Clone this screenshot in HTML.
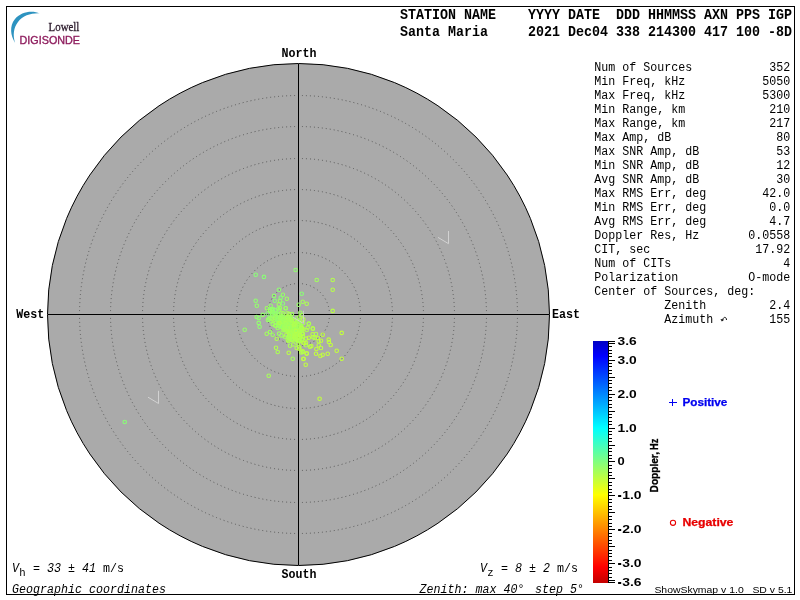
<!DOCTYPE html>
<html><head><meta charset="utf-8"><title>Skymap</title>
<style>
html,body{margin:0;padding:0;background:#fff;overflow:hidden}
svg{display:block;will-change:transform}
text{font-family:"Liberation Mono",monospace;white-space:pre;fill:#000}
.m{font-size:12px}
.mb{font-size:13.6px;font-weight:bold}
.mi{font-size:12px;font-style:italic}
.h{font-size:13.8px;font-weight:bold}
.sb{font-family:"Liberation Sans",sans-serif;font-weight:bold;font-size:10.5px}
.s{font-family:"Liberation Sans",sans-serif;font-size:9.3px}
</style></head><body>
<svg width="800" height="600" viewBox="0 0 800 600">
<rect x="0" y="0" width="800" height="600" fill="#fff"/>
<g id="logo">
<path d="M39.8,13.4 C32,10.3 21,11.6 14.6,19.5 C9.6,26 10.2,35.5 15.2,43 C12.6,35.5 13.6,27.5 18,22 C23,15.6 31,13 39.8,13.4 Z" fill="#2d93c0"/>
<text x="48.6" y="30.8" textLength="30.8" lengthAdjust="spacingAndGlyphs" style="font-family:'Liberation Serif',serif;font-size:12.2px;fill:#2b1a2b;stroke:#2b1a2b;stroke-width:0.3">Lowell</text>
<text x="19.6" y="43.5" textLength="60.4" lengthAdjust="spacingAndGlyphs" style="font-family:'Liberation Sans',sans-serif;font-size:10.9px;fill:#8e1d5e;stroke:#8e1d5e;stroke-width:0.35">DIGISONDE</text>
</g>
<text class="h" x="400" y="19" textLength="392" lengthAdjust="spacingAndGlyphs">STATION NAME    YYYY DATE  DDD HHMMSS AXN PPS IGP</text>
<text class="h" x="400" y="36" textLength="392" lengthAdjust="spacingAndGlyphs">Santa Maria     2021 Dec04 338 214300 417 100 -8D</text>
<circle cx="298.5" cy="314.5" r="251" fill="#aaaaaa" stroke="#000" stroke-width="1"/>
<circle cx="298.5" cy="314.5" r="31" pathLength="192" fill="none" stroke="#585858" stroke-width="1" stroke-dasharray="1 3" stroke-dashoffset="0.5"/>
<circle cx="298.5" cy="314.5" r="62" pathLength="384" fill="none" stroke="#585858" stroke-width="1" stroke-dasharray="1 3" stroke-dashoffset="0.5"/>
<circle cx="298.5" cy="314.5" r="94" pathLength="592" fill="none" stroke="#585858" stroke-width="1" stroke-dasharray="1 3" stroke-dashoffset="0.5"/>
<circle cx="298.5" cy="314.5" r="125" pathLength="784" fill="none" stroke="#585858" stroke-width="1" stroke-dasharray="1 3" stroke-dashoffset="0.5"/>
<circle cx="298.5" cy="314.5" r="156" pathLength="976" fill="none" stroke="#585858" stroke-width="1" stroke-dasharray="1 3" stroke-dashoffset="0.5"/>
<circle cx="298.5" cy="314.5" r="188" pathLength="1184" fill="none" stroke="#585858" stroke-width="1" stroke-dasharray="1 3" stroke-dashoffset="0.5"/>
<circle cx="298.5" cy="314.5" r="219" pathLength="1376" fill="none" stroke="#585858" stroke-width="1" stroke-dasharray="1 3" stroke-dashoffset="0.5"/>
<g shape-rendering="crispEdges" stroke="#000" stroke-width="1">
<line x1="298.5" y1="64" x2="298.5" y2="565"/>
<line x1="48" y1="314.5" x2="549" y2="314.5"/>
</g>
<path d="M438,237.4 L448.5,243.7 L448.5,231" fill="none" stroke="#d2d2d2" stroke-width="1"/>
<path d="M148,397.2 L158.5,403.5 L158.5,390.8" fill="none" stroke="#d2d2d2" stroke-width="1"/>
<text class="mb" x="281.5" y="56.5" textLength="35" lengthAdjust="spacingAndGlyphs">North</text>
<text class="mb" x="281.5" y="577.5" textLength="35" lengthAdjust="spacingAndGlyphs">South</text>
<text class="mb" x="16.2" y="317.5" textLength="28" lengthAdjust="spacingAndGlyphs">West</text>
<text class="mb" x="552" y="317.5" textLength="28" lengthAdjust="spacingAndGlyphs">East</text>
<g fill="none" stroke-width="1.1">
<circle cx="278.0" cy="314.5" r="1.75" stroke="#95ff6b"/>
<circle cx="291.0" cy="327.8" r="1.75" stroke="#abff54"/>
<circle cx="285.5" cy="329.7" r="1.75" stroke="#a7ff58"/>
<circle cx="293.7" cy="328.7" r="1.75" stroke="#b5ff4b"/>
<circle cx="282.1" cy="322.3" r="1.75" stroke="#9aff66"/>
<circle cx="292.1" cy="328.7" r="1.75" stroke="#bbff45"/>
<circle cx="298.7" cy="304.7" r="1.75" stroke="#97ff69"/>
<circle cx="293.8" cy="331.6" r="1.75" stroke="#a6ff5a"/>
<circle cx="282.8" cy="326.0" r="1.75" stroke="#99ff67"/>
<circle cx="296.7" cy="328.8" r="1.75" stroke="#a5ff5b"/>
<circle cx="266.8" cy="308.3" r="1.75" stroke="#9eff62"/>
<circle cx="278.8" cy="324.7" r="1.75" stroke="#9cff63"/>
<circle cx="312.7" cy="328.4" r="1.75" stroke="#b2ff4d"/>
<circle cx="290.3" cy="329.2" r="1.75" stroke="#b9ff47"/>
<circle cx="281.1" cy="317.3" r="1.75" stroke="#9cff64"/>
<circle cx="293.6" cy="322.9" r="1.75" stroke="#acff54"/>
<circle cx="284.1" cy="325.2" r="1.75" stroke="#a4ff5c"/>
<circle cx="285.2" cy="327.8" r="1.75" stroke="#a5ff5b"/>
<circle cx="288.0" cy="317.0" r="1.75" stroke="#9cff64"/>
<circle cx="284.3" cy="328.4" r="1.75" stroke="#a7ff59"/>
<circle cx="287.7" cy="339.7" r="1.75" stroke="#adff53"/>
<circle cx="306.1" cy="338.6" r="1.75" stroke="#bbff45"/>
<circle cx="284.4" cy="318.3" r="1.75" stroke="#9fff61"/>
<circle cx="292.7" cy="358.7" r="1.75" stroke="#a7ff59"/>
<circle cx="278.8" cy="304.4" r="1.75" stroke="#a4ff5c"/>
<circle cx="316.7" cy="280.0" r="1.75" stroke="#a2ff5e"/>
<circle cx="291.8" cy="331.6" r="1.75" stroke="#b2ff4e"/>
<circle cx="298.6" cy="325.5" r="1.75" stroke="#b1ff4e"/>
<circle cx="298.0" cy="330.1" r="1.75" stroke="#b1ff4e"/>
<circle cx="332.7" cy="310.9" r="1.75" stroke="#b9ff46"/>
<circle cx="255.7" cy="300.8" r="1.75" stroke="#90ff70"/>
<circle cx="290.8" cy="316.2" r="1.75" stroke="#9dff62"/>
<circle cx="289.7" cy="331.1" r="1.75" stroke="#b2ff4d"/>
<circle cx="285.6" cy="326.3" r="1.75" stroke="#a3ff5d"/>
<circle cx="341.7" cy="358.8" r="1.75" stroke="#c2ff3d"/>
<circle cx="294.6" cy="337.9" r="1.75" stroke="#a8ff58"/>
<circle cx="292.0" cy="314.0" r="1.75" stroke="#a1ff5f"/>
<circle cx="290.2" cy="327.3" r="1.75" stroke="#a6ff5a"/>
<circle cx="306.7" cy="353.3" r="1.75" stroke="#c1ff3f"/>
<circle cx="293.0" cy="331.1" r="1.75" stroke="#afff51"/>
<circle cx="286.3" cy="321.1" r="1.75" stroke="#b7ff49"/>
<circle cx="297.6" cy="334.4" r="1.75" stroke="#a4ff5b"/>
<circle cx="271.5" cy="321.5" r="1.75" stroke="#95ff6b"/>
<circle cx="288.3" cy="321.6" r="1.75" stroke="#a5ff5b"/>
<circle cx="294.4" cy="329.6" r="1.75" stroke="#a6ff5a"/>
<circle cx="321.0" cy="348.0" r="1.75" stroke="#beff42"/>
<circle cx="281.4" cy="335.4" r="1.75" stroke="#a1ff5f"/>
<circle cx="262.7" cy="314.9" r="1.75" stroke="#94ff6b"/>
<circle cx="295.7" cy="336.3" r="1.75" stroke="#bcff44"/>
<circle cx="270.7" cy="305.7" r="1.75" stroke="#95ff6a"/>
<circle cx="282.8" cy="330.2" r="1.75" stroke="#a3ff5c"/>
<circle cx="291.1" cy="323.9" r="1.75" stroke="#b4ff4c"/>
<circle cx="316.4" cy="349.0" r="1.75" stroke="#c2ff3d"/>
<circle cx="313.3" cy="337.3" r="1.75" stroke="#b5ff4b"/>
<circle cx="292.0" cy="334.1" r="1.75" stroke="#acff53"/>
<circle cx="302.1" cy="339.4" r="1.75" stroke="#aeff51"/>
<circle cx="290.2" cy="328.4" r="1.75" stroke="#a9ff57"/>
<circle cx="298.7" cy="325.1" r="1.75" stroke="#a4ff5c"/>
<circle cx="282.5" cy="321.2" r="1.75" stroke="#9eff62"/>
<circle cx="290.6" cy="339.1" r="1.75" stroke="#a8ff58"/>
<circle cx="287.2" cy="327.6" r="1.75" stroke="#a9ff57"/>
<circle cx="285.7" cy="308.3" r="1.75" stroke="#8dff73"/>
<circle cx="291.3" cy="332.3" r="1.75" stroke="#a9ff56"/>
<circle cx="277.7" cy="328.0" r="1.75" stroke="#9dff62"/>
<circle cx="318.7" cy="345.3" r="1.75" stroke="#c1ff3e"/>
<circle cx="295.7" cy="334.1" r="1.75" stroke="#a8ff57"/>
<circle cx="276.0" cy="347.7" r="1.75" stroke="#b2ff4e"/>
<circle cx="293.5" cy="329.2" r="1.75" stroke="#acff53"/>
<circle cx="283.1" cy="325.2" r="1.75" stroke="#9bff64"/>
<circle cx="291.5" cy="326.0" r="1.75" stroke="#a3ff5d"/>
<circle cx="272.7" cy="334.7" r="1.75" stroke="#9fff61"/>
<circle cx="275.8" cy="313.5" r="1.75" stroke="#99ff67"/>
<circle cx="279.1" cy="333.6" r="1.75" stroke="#9fff61"/>
<circle cx="280.6" cy="318.8" r="1.75" stroke="#a2ff5e"/>
<circle cx="293.5" cy="333.0" r="1.75" stroke="#b3ff4d"/>
<circle cx="307.7" cy="327.6" r="1.75" stroke="#b1ff4f"/>
<circle cx="279.1" cy="310.4" r="1.75" stroke="#96ff6a"/>
<circle cx="303.3" cy="329.3" r="1.75" stroke="#b5ff4b"/>
<circle cx="306.0" cy="345.3" r="1.75" stroke="#afff50"/>
<circle cx="278.9" cy="289.7" r="1.75" stroke="#8eff72"/>
<circle cx="285.8" cy="324.5" r="1.75" stroke="#a1ff5e"/>
<circle cx="272.4" cy="314.4" r="1.75" stroke="#9bff65"/>
<circle cx="291.7" cy="326.8" r="1.75" stroke="#a0ff60"/>
<circle cx="285.0" cy="328.2" r="1.75" stroke="#a0ff5f"/>
<circle cx="285.0" cy="320.8" r="1.75" stroke="#9dff63"/>
<circle cx="301.8" cy="334.0" r="1.75" stroke="#a9ff57"/>
<circle cx="275.9" cy="322.6" r="1.75" stroke="#9bff65"/>
<circle cx="298.2" cy="333.5" r="1.75" stroke="#baff45"/>
<circle cx="278.2" cy="322.4" r="1.75" stroke="#93ff6d"/>
<circle cx="282.3" cy="327.3" r="1.75" stroke="#a2ff5e"/>
<circle cx="296.5" cy="334.1" r="1.75" stroke="#b0ff4f"/>
<circle cx="297.6" cy="335.1" r="1.75" stroke="#b6ff49"/>
<circle cx="280.0" cy="322.6" r="1.75" stroke="#98ff67"/>
<circle cx="292.2" cy="327.2" r="1.75" stroke="#a7ff58"/>
<circle cx="301.7" cy="293.7" r="1.75" stroke="#8aff76"/>
<circle cx="282.8" cy="316.7" r="1.75" stroke="#96ff6a"/>
<circle cx="300.9" cy="336.1" r="1.75" stroke="#a6ff5a"/>
<circle cx="309.0" cy="323.8" r="1.75" stroke="#afff50"/>
<circle cx="298.9" cy="337.5" r="1.75" stroke="#a5ff5a"/>
<circle cx="272.1" cy="310.2" r="1.75" stroke="#9cff64"/>
<circle cx="289.0" cy="325.8" r="1.75" stroke="#a3ff5d"/>
<circle cx="285.8" cy="326.8" r="1.75" stroke="#acff54"/>
<circle cx="299.4" cy="317.4" r="1.75" stroke="#b1ff4f"/>
<circle cx="293.4" cy="338.7" r="1.75" stroke="#a7ff59"/>
<circle cx="296.2" cy="339.9" r="1.75" stroke="#afff51"/>
<circle cx="280.5" cy="323.2" r="1.75" stroke="#9fff61"/>
<circle cx="289.6" cy="328.2" r="1.75" stroke="#b0ff4f"/>
<circle cx="282.3" cy="324.9" r="1.75" stroke="#a1ff5e"/>
<circle cx="291.3" cy="334.5" r="1.75" stroke="#b7ff49"/>
<circle cx="268.7" cy="375.7" r="1.75" stroke="#a7ff59"/>
<circle cx="292.5" cy="333.9" r="1.75" stroke="#aeff51"/>
<circle cx="279.8" cy="321.0" r="1.75" stroke="#a2ff5e"/>
<circle cx="283.8" cy="324.3" r="1.75" stroke="#adff53"/>
<circle cx="288.3" cy="341.0" r="1.75" stroke="#aeff51"/>
<circle cx="303.0" cy="333.9" r="1.75" stroke="#b7ff48"/>
<circle cx="303.7" cy="358.7" r="1.75" stroke="#baff46"/>
<circle cx="276.6" cy="313.8" r="1.75" stroke="#8eff72"/>
<circle cx="295.3" cy="332.0" r="1.75" stroke="#aeff52"/>
<circle cx="277.7" cy="352.0" r="1.75" stroke="#acff54"/>
<circle cx="286.5" cy="322.0" r="1.75" stroke="#a2ff5e"/>
<circle cx="274.0" cy="295.9" r="1.75" stroke="#91ff6f"/>
<circle cx="288.4" cy="328.8" r="1.75" stroke="#b7ff49"/>
<circle cx="301.6" cy="315.0" r="1.75" stroke="#abff55"/>
<circle cx="305.7" cy="364.7" r="1.75" stroke="#c0ff3f"/>
<circle cx="300.0" cy="340.1" r="1.75" stroke="#b2ff4e"/>
<circle cx="299.3" cy="348.7" r="1.75" stroke="#c2ff3d"/>
<circle cx="291.2" cy="329.7" r="1.75" stroke="#aeff52"/>
<circle cx="328.7" cy="339.6" r="1.75" stroke="#c2ff3d"/>
<circle cx="289.7" cy="318.7" r="1.75" stroke="#b3ff4d"/>
<circle cx="270.0" cy="310.0" r="1.75" stroke="#8aff76"/>
<circle cx="280.1" cy="326.7" r="1.75" stroke="#a5ff5b"/>
<circle cx="289.2" cy="318.4" r="1.75" stroke="#a1ff5e"/>
<circle cx="292.1" cy="327.5" r="1.75" stroke="#a6ff59"/>
<circle cx="292.8" cy="336.4" r="1.75" stroke="#abff55"/>
<circle cx="298.3" cy="337.1" r="1.75" stroke="#b7ff48"/>
<circle cx="311.3" cy="346.0" r="1.75" stroke="#c0ff3f"/>
<circle cx="291.0" cy="324.2" r="1.75" stroke="#a6ff59"/>
<circle cx="286.8" cy="298.8" r="1.75" stroke="#9eff62"/>
<circle cx="291.4" cy="318.6" r="1.75" stroke="#a1ff5f"/>
<circle cx="330.7" cy="345.0" r="1.75" stroke="#c2ff3d"/>
<circle cx="302.8" cy="336.3" r="1.75" stroke="#b1ff4f"/>
<circle cx="295.9" cy="329.0" r="1.75" stroke="#b3ff4c"/>
<circle cx="287.7" cy="329.4" r="1.75" stroke="#b7ff49"/>
<circle cx="302.7" cy="351.3" r="1.75" stroke="#c1ff3e"/>
<circle cx="289.2" cy="331.3" r="1.75" stroke="#a9ff57"/>
<circle cx="294.9" cy="337.9" r="1.75" stroke="#b4ff4c"/>
<circle cx="299.5" cy="341.5" r="1.75" stroke="#b6ff4a"/>
<circle cx="292.3" cy="326.8" r="1.75" stroke="#a5ff5b"/>
<circle cx="295.6" cy="270.0" r="1.75" stroke="#92ff6e"/>
<circle cx="274.7" cy="314.2" r="1.75" stroke="#96ff6a"/>
<circle cx="295.6" cy="328.2" r="1.75" stroke="#b5ff4b"/>
<circle cx="296.6" cy="318.5" r="1.75" stroke="#a0ff60"/>
<circle cx="293.4" cy="324.6" r="1.75" stroke="#a5ff5b"/>
<circle cx="300.0" cy="337.3" r="1.75" stroke="#bfff40"/>
<circle cx="294.3" cy="333.9" r="1.75" stroke="#b2ff4e"/>
<circle cx="296.4" cy="327.0" r="1.75" stroke="#9eff62"/>
<circle cx="295.4" cy="329.7" r="1.75" stroke="#9cff64"/>
<circle cx="301.8" cy="328.4" r="1.75" stroke="#abff55"/>
<circle cx="288.1" cy="330.9" r="1.75" stroke="#acff54"/>
<circle cx="300.3" cy="312.7" r="1.75" stroke="#9eff61"/>
<circle cx="272.1" cy="312.7" r="1.75" stroke="#98ff68"/>
<circle cx="283.1" cy="313.2" r="1.75" stroke="#a0ff60"/>
<circle cx="316.0" cy="353.7" r="1.75" stroke="#c2ff3d"/>
<circle cx="277.8" cy="319.6" r="1.75" stroke="#a8ff58"/>
<circle cx="290.5" cy="335.0" r="1.75" stroke="#a3ff5d"/>
<circle cx="303.3" cy="359.0" r="1.75" stroke="#c2ff3d"/>
<circle cx="289.2" cy="338.9" r="1.75" stroke="#a5ff5b"/>
<circle cx="280.0" cy="300.8" r="1.75" stroke="#9eff61"/>
<circle cx="292.0" cy="329.3" r="1.75" stroke="#adff52"/>
<circle cx="328.9" cy="342.0" r="1.75" stroke="#c2ff3d"/>
<circle cx="302.2" cy="328.2" r="1.75" stroke="#b9ff46"/>
<circle cx="282.3" cy="316.7" r="1.75" stroke="#9cff63"/>
<circle cx="282.9" cy="303.5" r="1.75" stroke="#8aff76"/>
<circle cx="295.8" cy="330.1" r="1.75" stroke="#a8ff58"/>
<circle cx="273.3" cy="309.3" r="1.75" stroke="#91ff6f"/>
<circle cx="291.9" cy="319.9" r="1.75" stroke="#a0ff60"/>
<circle cx="295.3" cy="338.8" r="1.75" stroke="#a4ff5c"/>
<circle cx="286.7" cy="328.0" r="1.75" stroke="#95ff6a"/>
<circle cx="300.0" cy="324.4" r="1.75" stroke="#abff55"/>
<circle cx="282.0" cy="320.2" r="1.75" stroke="#a4ff5c"/>
<circle cx="293.3" cy="339.4" r="1.75" stroke="#a4ff5c"/>
<circle cx="308.8" cy="337.8" r="1.75" stroke="#c2ff3e"/>
<circle cx="293.9" cy="336.3" r="1.75" stroke="#b3ff4d"/>
<circle cx="244.7" cy="329.8" r="1.75" stroke="#96ff6a"/>
<circle cx="291.7" cy="323.7" r="1.75" stroke="#aaff55"/>
<circle cx="298.6" cy="337.4" r="1.75" stroke="#aaff55"/>
<circle cx="287.2" cy="317.0" r="1.75" stroke="#b0ff50"/>
<circle cx="275.2" cy="310.3" r="1.75" stroke="#93ff6d"/>
<circle cx="297.2" cy="320.7" r="1.75" stroke="#a7ff58"/>
<circle cx="280.0" cy="308.0" r="1.75" stroke="#a4ff5c"/>
<circle cx="304.3" cy="343.2" r="1.75" stroke="#b9ff46"/>
<circle cx="292.3" cy="323.4" r="1.75" stroke="#a2ff5e"/>
<circle cx="289.9" cy="326.9" r="1.75" stroke="#adff53"/>
<circle cx="303.2" cy="323.1" r="1.75" stroke="#a9ff56"/>
<circle cx="312.6" cy="334.2" r="1.75" stroke="#beff42"/>
<circle cx="280.4" cy="321.3" r="1.75" stroke="#9fff61"/>
<circle cx="274.8" cy="300.8" r="1.75" stroke="#8aff76"/>
<circle cx="286.0" cy="323.4" r="1.75" stroke="#a3ff5d"/>
<circle cx="292.0" cy="323.4" r="1.75" stroke="#afff50"/>
<circle cx="310.0" cy="346.7" r="1.75" stroke="#bbff45"/>
<circle cx="284.5" cy="330.0" r="1.75" stroke="#afff50"/>
<circle cx="273.5" cy="320.2" r="1.75" stroke="#a4ff5c"/>
<circle cx="283.3" cy="321.2" r="1.75" stroke="#99ff66"/>
<circle cx="288.9" cy="332.2" r="1.75" stroke="#b5ff4b"/>
<circle cx="277.1" cy="319.8" r="1.75" stroke="#9eff61"/>
<circle cx="320.4" cy="356.0" r="1.75" stroke="#c2ff3d"/>
<circle cx="278.1" cy="322.6" r="1.75" stroke="#a3ff5d"/>
<circle cx="286.2" cy="324.6" r="1.75" stroke="#9eff61"/>
<circle cx="341.7" cy="332.9" r="1.75" stroke="#c2ff3d"/>
<circle cx="299.7" cy="330.9" r="1.75" stroke="#b8ff48"/>
<circle cx="289.9" cy="331.3" r="1.75" stroke="#aaff55"/>
<circle cx="283.4" cy="327.6" r="1.75" stroke="#a5ff5a"/>
<circle cx="288.3" cy="327.5" r="1.75" stroke="#9bff65"/>
<circle cx="290.1" cy="321.4" r="1.75" stroke="#99ff67"/>
<circle cx="332.7" cy="280.0" r="1.75" stroke="#b4ff4c"/>
<circle cx="295.2" cy="330.9" r="1.75" stroke="#a1ff5f"/>
<circle cx="301.0" cy="326.0" r="1.75" stroke="#a3ff5d"/>
<circle cx="318.7" cy="341.3" r="1.75" stroke="#baff46"/>
<circle cx="282.5" cy="326.2" r="1.75" stroke="#99ff66"/>
<circle cx="306.7" cy="303.7" r="1.75" stroke="#afff50"/>
<circle cx="298.7" cy="333.3" r="1.75" stroke="#afff50"/>
<circle cx="124.7" cy="422.0" r="1.75" stroke="#8aff76"/>
<circle cx="314.7" cy="338.0" r="1.75" stroke="#b2ff4e"/>
<circle cx="278.4" cy="308.6" r="1.75" stroke="#94ff6c"/>
<circle cx="296.7" cy="348.0" r="1.75" stroke="#b6ff4a"/>
<circle cx="291.9" cy="339.9" r="1.75" stroke="#b1ff4e"/>
<circle cx="298.6" cy="326.7" r="1.75" stroke="#a2ff5e"/>
<circle cx="267.6" cy="313.5" r="1.75" stroke="#8aff76"/>
<circle cx="290.1" cy="325.9" r="1.75" stroke="#aaff55"/>
<circle cx="291.9" cy="328.8" r="1.75" stroke="#9cff64"/>
<circle cx="285.5" cy="327.8" r="1.75" stroke="#a2ff5e"/>
<circle cx="284.4" cy="326.7" r="1.75" stroke="#afff51"/>
<circle cx="282.9" cy="294.7" r="1.75" stroke="#96ff69"/>
<circle cx="275.5" cy="316.0" r="1.75" stroke="#9fff61"/>
<circle cx="290.0" cy="345.7" r="1.75" stroke="#aaff56"/>
<circle cx="287.1" cy="322.5" r="1.75" stroke="#adff53"/>
<circle cx="299.3" cy="347.4" r="1.75" stroke="#b6ff4a"/>
<circle cx="316.0" cy="334.0" r="1.75" stroke="#b4ff4b"/>
<circle cx="271.9" cy="319.2" r="1.75" stroke="#a5ff5b"/>
<circle cx="281.4" cy="312.8" r="1.75" stroke="#a7ff59"/>
<circle cx="296.8" cy="334.0" r="1.75" stroke="#b4ff4b"/>
<circle cx="280.4" cy="319.4" r="1.75" stroke="#9dff63"/>
<circle cx="277.9" cy="323.7" r="1.75" stroke="#96ff6a"/>
<circle cx="287.0" cy="325.2" r="1.75" stroke="#a7ff59"/>
<circle cx="288.7" cy="352.7" r="1.75" stroke="#baff46"/>
<circle cx="256.7" cy="317.0" r="1.75" stroke="#94ff6c"/>
<circle cx="322.7" cy="354.7" r="1.75" stroke="#c2ff3d"/>
<circle cx="302.7" cy="352.0" r="1.75" stroke="#b3ff4d"/>
<circle cx="283.7" cy="326.0" r="1.75" stroke="#a1ff5f"/>
<circle cx="308.7" cy="323.6" r="1.75" stroke="#abff55"/>
<circle cx="294.8" cy="320.7" r="1.75" stroke="#acff54"/>
<circle cx="290.4" cy="331.8" r="1.75" stroke="#aeff51"/>
<circle cx="267.9" cy="319.9" r="1.75" stroke="#9aff66"/>
<circle cx="301.9" cy="339.8" r="1.75" stroke="#aeff52"/>
<circle cx="271.8" cy="309.3" r="1.75" stroke="#93ff6d"/>
<circle cx="294.1" cy="327.2" r="1.75" stroke="#b0ff50"/>
<circle cx="288.8" cy="320.7" r="1.75" stroke="#a4ff5c"/>
<circle cx="295.2" cy="338.8" r="1.75" stroke="#b2ff4e"/>
<circle cx="269.1" cy="318.5" r="1.75" stroke="#8aff76"/>
<circle cx="286.4" cy="318.3" r="1.75" stroke="#b1ff4f"/>
<circle cx="266.7" cy="333.7" r="1.75" stroke="#a4ff5c"/>
<circle cx="306.7" cy="330.0" r="1.75" stroke="#b1ff4f"/>
<circle cx="303.3" cy="342.7" r="1.75" stroke="#bcff43"/>
<circle cx="286.0" cy="335.2" r="1.75" stroke="#b7ff48"/>
<circle cx="289.3" cy="317.6" r="1.75" stroke="#a3ff5d"/>
<circle cx="287.7" cy="323.5" r="1.75" stroke="#9bff65"/>
<circle cx="299.9" cy="340.3" r="1.75" stroke="#abff54"/>
<circle cx="275.1" cy="317.8" r="1.75" stroke="#a4ff5c"/>
<circle cx="295.5" cy="336.6" r="1.75" stroke="#b4ff4c"/>
<circle cx="273.3" cy="311.6" r="1.75" stroke="#91ff6f"/>
<circle cx="290.2" cy="329.4" r="1.75" stroke="#abff54"/>
<circle cx="285.4" cy="324.7" r="1.75" stroke="#a0ff5f"/>
<circle cx="276.7" cy="316.7" r="1.75" stroke="#9cff64"/>
<circle cx="296.9" cy="322.1" r="1.75" stroke="#a7ff59"/>
<circle cx="268.9" cy="318.5" r="1.75" stroke="#95ff6b"/>
<circle cx="284.9" cy="336.7" r="1.75" stroke="#9eff62"/>
<circle cx="319.6" cy="398.7" r="1.75" stroke="#c2ff3d"/>
<circle cx="322.7" cy="334.7" r="1.75" stroke="#c1ff3e"/>
<circle cx="275.0" cy="325.4" r="1.75" stroke="#a4ff5c"/>
<circle cx="295.8" cy="335.9" r="1.75" stroke="#afff50"/>
<circle cx="277.6" cy="319.2" r="1.75" stroke="#8dff73"/>
<circle cx="318.0" cy="338.0" r="1.75" stroke="#c1ff3e"/>
<circle cx="295.0" cy="329.2" r="1.75" stroke="#9dff63"/>
<circle cx="279.8" cy="324.5" r="1.75" stroke="#a7ff59"/>
<circle cx="258.7" cy="322.9" r="1.75" stroke="#93ff6d"/>
<circle cx="276.7" cy="338.7" r="1.75" stroke="#b0ff4f"/>
<circle cx="285.0" cy="322.3" r="1.75" stroke="#a1ff5f"/>
<circle cx="272.1" cy="314.8" r="1.75" stroke="#91ff6f"/>
<circle cx="285.6" cy="308.3" r="1.75" stroke="#a2ff5d"/>
<circle cx="270.4" cy="318.1" r="1.75" stroke="#9dff63"/>
<circle cx="302.7" cy="301.7" r="1.75" stroke="#a7ff59"/>
<circle cx="280.7" cy="316.5" r="1.75" stroke="#9bff65"/>
<circle cx="289.5" cy="334.9" r="1.75" stroke="#b5ff4b"/>
<circle cx="281.6" cy="318.0" r="1.75" stroke="#9dff62"/>
<circle cx="295.6" cy="339.0" r="1.75" stroke="#adff52"/>
<circle cx="286.8" cy="318.5" r="1.75" stroke="#a1ff5f"/>
<circle cx="291.9" cy="320.6" r="1.75" stroke="#acff54"/>
<circle cx="272.7" cy="324.1" r="1.75" stroke="#9eff62"/>
<circle cx="296.0" cy="330.9" r="1.75" stroke="#b6ff49"/>
<circle cx="306.7" cy="353.7" r="1.75" stroke="#beff41"/>
<circle cx="301.5" cy="327.7" r="1.75" stroke="#b5ff4b"/>
<circle cx="259.6" cy="326.7" r="1.75" stroke="#90ff6f"/>
<circle cx="293.3" cy="344.4" r="1.75" stroke="#acff54"/>
<circle cx="289.9" cy="338.6" r="1.75" stroke="#a7ff59"/>
<circle cx="258.7" cy="318.0" r="1.75" stroke="#8eff72"/>
<circle cx="283.3" cy="319.4" r="1.75" stroke="#a4ff5c"/>
<circle cx="280.2" cy="325.9" r="1.75" stroke="#93ff6d"/>
<circle cx="302.1" cy="330.4" r="1.75" stroke="#afff50"/>
<circle cx="270.0" cy="332.0" r="1.75" stroke="#9fff61"/>
<circle cx="287.4" cy="330.9" r="1.75" stroke="#afff50"/>
<circle cx="299.7" cy="331.4" r="1.75" stroke="#abff54"/>
<circle cx="298.5" cy="341.2" r="1.75" stroke="#b1ff4f"/>
<circle cx="332.7" cy="289.7" r="1.75" stroke="#b6ff49"/>
<circle cx="290.5" cy="319.9" r="1.75" stroke="#aaff56"/>
<circle cx="298.7" cy="335.3" r="1.75" stroke="#a9ff57"/>
<circle cx="279.5" cy="322.9" r="1.75" stroke="#b1ff4e"/>
<circle cx="280.7" cy="297.7" r="1.75" stroke="#8aff76"/>
<circle cx="289.0" cy="327.7" r="1.75" stroke="#a2ff5e"/>
<circle cx="290.2" cy="335.1" r="1.75" stroke="#a3ff5d"/>
<circle cx="270.0" cy="310.9" r="1.75" stroke="#9aff65"/>
<circle cx="303.3" cy="319.4" r="1.75" stroke="#b6ff4a"/>
<circle cx="285.8" cy="323.1" r="1.75" stroke="#a8ff58"/>
<circle cx="255.7" cy="274.8" r="1.75" stroke="#8aff76"/>
<circle cx="284.5" cy="328.0" r="1.75" stroke="#a5ff5a"/>
<circle cx="327.7" cy="353.7" r="1.75" stroke="#c2ff3d"/>
<circle cx="290.1" cy="327.5" r="1.75" stroke="#a7ff58"/>
<circle cx="276.3" cy="326.1" r="1.75" stroke="#9dff63"/>
<circle cx="285.8" cy="330.2" r="1.75" stroke="#a5ff5a"/>
<circle cx="277.6" cy="318.0" r="1.75" stroke="#9aff66"/>
<circle cx="297.8" cy="343.6" r="1.75" stroke="#afff51"/>
<circle cx="292.2" cy="330.8" r="1.75" stroke="#a7ff58"/>
<circle cx="284.7" cy="330.3" r="1.75" stroke="#a7ff58"/>
<circle cx="287.4" cy="313.3" r="1.75" stroke="#a9ff57"/>
<circle cx="306.0" cy="343.0" r="1.75" stroke="#bfff40"/>
<circle cx="263.9" cy="276.9" r="1.75" stroke="#8aff76"/>
<circle cx="301.3" cy="352.4" r="1.75" stroke="#b2ff4e"/>
<circle cx="256.8" cy="305.7" r="1.75" stroke="#94ff6c"/>
<circle cx="288.1" cy="325.6" r="1.75" stroke="#a7ff59"/>
<circle cx="280.3" cy="317.7" r="1.75" stroke="#a2ff5e"/>
<circle cx="299.9" cy="335.0" r="1.75" stroke="#b7ff48"/>
<circle cx="294.1" cy="325.3" r="1.75" stroke="#b0ff50"/>
<circle cx="295.0" cy="323.8" r="1.75" stroke="#afff50"/>
<circle cx="336.7" cy="350.7" r="1.75" stroke="#c2ff3d"/>
<circle cx="300.5" cy="330.4" r="1.75" stroke="#abff54"/>
<circle cx="289.4" cy="326.8" r="1.75" stroke="#9bff65"/>
<circle cx="288.8" cy="337.2" r="1.75" stroke="#abff54"/>
<circle cx="289.2" cy="314.1" r="1.75" stroke="#abff55"/>
<circle cx="313.0" cy="328.7" r="1.75" stroke="#b5ff4a"/>
<circle cx="287.6" cy="328.2" r="1.75" stroke="#acff54"/>
<circle cx="299.0" cy="321.6" r="1.75" stroke="#a5ff5b"/>
<circle cx="285.7" cy="326.3" r="1.75" stroke="#a2ff5e"/>
<circle cx="321.0" cy="340.7" r="1.75" stroke="#c2ff3d"/>
</g>
<path d="M292.9,317.1 L303.4,323.4 L303.4,310.7" fill="none" stroke="#d2d2d2" stroke-width="1" opacity="0.85"/>
<text class="m" x="594.3" y="71" textLength="196" lengthAdjust="spacingAndGlyphs">Num of Sources           352</text>
<text class="m" x="594.3" y="85" textLength="196" lengthAdjust="spacingAndGlyphs">Min Freq, kHz           5050</text>
<text class="m" x="594.3" y="99" textLength="196" lengthAdjust="spacingAndGlyphs">Max Freq, kHz           5300</text>
<text class="m" x="594.3" y="113" textLength="196" lengthAdjust="spacingAndGlyphs">Min Range, km            210</text>
<text class="m" x="594.3" y="127" textLength="196" lengthAdjust="spacingAndGlyphs">Max Range, km            217</text>
<text class="m" x="594.3" y="141" textLength="196" lengthAdjust="spacingAndGlyphs">Max Amp, dB               80</text>
<text class="m" x="594.3" y="155" textLength="196" lengthAdjust="spacingAndGlyphs">Max SNR Amp, dB           53</text>
<text class="m" x="594.3" y="169" textLength="196" lengthAdjust="spacingAndGlyphs">Min SNR Amp, dB           12</text>
<text class="m" x="594.3" y="183" textLength="196" lengthAdjust="spacingAndGlyphs">Avg SNR Amp, dB           30</text>
<text class="m" x="594.3" y="197" textLength="196" lengthAdjust="spacingAndGlyphs">Max RMS Err, deg        42.0</text>
<text class="m" x="594.3" y="211" textLength="196" lengthAdjust="spacingAndGlyphs">Min RMS Err, deg         0.0</text>
<text class="m" x="594.3" y="225" textLength="196" lengthAdjust="spacingAndGlyphs">Avg RMS Err, deg         4.7</text>
<text class="m" x="594.3" y="239" textLength="196" lengthAdjust="spacingAndGlyphs">Doppler Res, Hz       0.0558</text>
<text class="m" x="594.3" y="253" textLength="196" lengthAdjust="spacingAndGlyphs">CIT, sec               17.92</text>
<text class="m" x="594.3" y="267" textLength="196" lengthAdjust="spacingAndGlyphs">Num of CITs                4</text>
<text class="m" x="594.3" y="281" textLength="196" lengthAdjust="spacingAndGlyphs">Polarization          O-mode</text>
<text class="m" x="594.3" y="295" textLength="161" lengthAdjust="spacingAndGlyphs">Center of Sources, deg:</text>
<text class="m" x="594.3" y="309" textLength="196" lengthAdjust="spacingAndGlyphs">          Zenith         2.4</text>
<text class="m" x="594.3" y="323" textLength="196" lengthAdjust="spacingAndGlyphs">          Azimuth        155</text>
<g transform="translate(0.6,0)"><path d="M725.9,320 C725.9,318 724.9,317.2 723.9,317.4 C722.8,317.7 722.3,319 721.8,320.3" fill="none" stroke="#111" stroke-width="1"/>
<path d="M719.9,318.9 L723.6,319.7 L721.2,321.5 Z" fill="#111"/></g>
<defs><linearGradient id="jet" x1="0" y1="0" x2="0" y2="1">
<stop offset="0.0000" stop-color="#0000c3"/>
<stop offset="0.0620" stop-color="#0000ff"/>
<stop offset="0.3595" stop-color="#00ffff"/>
<stop offset="0.4979" stop-color="#80ff80"/>
<stop offset="0.6364" stop-color="#ffff00"/>
<stop offset="0.9339" stop-color="#ff0000"/>
<stop offset="1.0000" stop-color="#c30000"/>
</linearGradient></defs>
<rect x="593" y="341" width="15" height="242" fill="url(#jet)"/>
<g shape-rendering="crispEdges" stroke="#000" stroke-width="1">
<line x1="608.5" y1="341" x2="608.5" y2="583"/>
<line x1="608" y1="580.5" x2="615" y2="580.5"/>
<line x1="608" y1="577.5" x2="612" y2="577.5"/>
<line x1="608" y1="573.5" x2="612" y2="573.5"/>
<line x1="608" y1="570.5" x2="612" y2="570.5"/>
<line x1="608" y1="567.5" x2="612" y2="567.5"/>
<line x1="608" y1="563.5" x2="615" y2="563.5"/>
<line x1="608" y1="560.5" x2="612" y2="560.5"/>
<line x1="608" y1="556.5" x2="612" y2="556.5"/>
<line x1="608" y1="553.5" x2="612" y2="553.5"/>
<line x1="608" y1="550.5" x2="612" y2="550.5"/>
<line x1="608" y1="546.5" x2="615" y2="546.5"/>
<line x1="608" y1="543.5" x2="612" y2="543.5"/>
<line x1="608" y1="540.5" x2="612" y2="540.5"/>
<line x1="608" y1="536.5" x2="612" y2="536.5"/>
<line x1="608" y1="533.5" x2="612" y2="533.5"/>
<line x1="608" y1="529.5" x2="615" y2="529.5"/>
<line x1="608" y1="526.5" x2="612" y2="526.5"/>
<line x1="608" y1="523.5" x2="612" y2="523.5"/>
<line x1="608" y1="519.5" x2="612" y2="519.5"/>
<line x1="608" y1="516.5" x2="612" y2="516.5"/>
<line x1="608" y1="512.5" x2="615" y2="512.5"/>
<line x1="608" y1="509.5" x2="612" y2="509.5"/>
<line x1="608" y1="506.5" x2="612" y2="506.5"/>
<line x1="608" y1="502.5" x2="612" y2="502.5"/>
<line x1="608" y1="499.5" x2="612" y2="499.5"/>
<line x1="608" y1="495.5" x2="615" y2="495.5"/>
<line x1="608" y1="492.5" x2="612" y2="492.5"/>
<line x1="608" y1="489.5" x2="612" y2="489.5"/>
<line x1="608" y1="485.5" x2="612" y2="485.5"/>
<line x1="608" y1="482.5" x2="612" y2="482.5"/>
<line x1="608" y1="478.5" x2="615" y2="478.5"/>
<line x1="608" y1="475.5" x2="612" y2="475.5"/>
<line x1="608" y1="472.5" x2="612" y2="472.5"/>
<line x1="608" y1="468.5" x2="612" y2="468.5"/>
<line x1="608" y1="465.5" x2="612" y2="465.5"/>
<line x1="608" y1="461.5" x2="615" y2="461.5"/>
<line x1="608" y1="458.5" x2="612" y2="458.5"/>
<line x1="608" y1="455.5" x2="612" y2="455.5"/>
<line x1="608" y1="451.5" x2="612" y2="451.5"/>
<line x1="608" y1="448.5" x2="612" y2="448.5"/>
<line x1="608" y1="445.5" x2="615" y2="445.5"/>
<line x1="608" y1="441.5" x2="612" y2="441.5"/>
<line x1="608" y1="438.5" x2="612" y2="438.5"/>
<line x1="608" y1="434.5" x2="612" y2="434.5"/>
<line x1="608" y1="431.5" x2="612" y2="431.5"/>
<line x1="608" y1="428.5" x2="615" y2="428.5"/>
<line x1="608" y1="424.5" x2="612" y2="424.5"/>
<line x1="608" y1="421.5" x2="612" y2="421.5"/>
<line x1="608" y1="417.5" x2="612" y2="417.5"/>
<line x1="608" y1="414.5" x2="612" y2="414.5"/>
<line x1="608" y1="411.5" x2="615" y2="411.5"/>
<line x1="608" y1="407.5" x2="612" y2="407.5"/>
<line x1="608" y1="404.5" x2="612" y2="404.5"/>
<line x1="608" y1="400.5" x2="612" y2="400.5"/>
<line x1="608" y1="397.5" x2="612" y2="397.5"/>
<line x1="608" y1="394.5" x2="615" y2="394.5"/>
<line x1="608" y1="390.5" x2="612" y2="390.5"/>
<line x1="608" y1="387.5" x2="612" y2="387.5"/>
<line x1="608" y1="383.5" x2="612" y2="383.5"/>
<line x1="608" y1="380.5" x2="612" y2="380.5"/>
<line x1="608" y1="377.5" x2="615" y2="377.5"/>
<line x1="608" y1="373.5" x2="612" y2="373.5"/>
<line x1="608" y1="370.5" x2="612" y2="370.5"/>
<line x1="608" y1="366.5" x2="612" y2="366.5"/>
<line x1="608" y1="363.5" x2="612" y2="363.5"/>
<line x1="608" y1="360.5" x2="615" y2="360.5"/>
<line x1="608" y1="356.5" x2="612" y2="356.5"/>
<line x1="608" y1="353.5" x2="612" y2="353.5"/>
<line x1="608" y1="350.5" x2="612" y2="350.5"/>
<line x1="608" y1="346.5" x2="612" y2="346.5"/>
<line x1="608" y1="343.5" x2="615" y2="343.5"/>
<line x1="608" y1="341.5" x2="615" y2="341.5"/>
<line x1="608" y1="582.5" x2="615" y2="582.5"/>
</g>
<text class="sb" x="617.6" y="344.7" textLength="19.2" lengthAdjust="spacingAndGlyphs">3.6</text>
<text class="sb" x="617.6" y="363.7" textLength="19.2" lengthAdjust="spacingAndGlyphs">3.0</text>
<text class="sb" x="617.6" y="397.7" textLength="19.2" lengthAdjust="spacingAndGlyphs">2.0</text>
<text class="sb" x="617.6" y="431.7" textLength="19.2" lengthAdjust="spacingAndGlyphs">1.0</text>
<text class="sb" x="617.6" y="464.7" textLength="7.2" lengthAdjust="spacingAndGlyphs">0</text>
<rect x="618.1" y="495.0" width="3.1" height="2" fill="#000"/>
<text class="sb" x="622.2" y="498.7" textLength="19.3" lengthAdjust="spacingAndGlyphs">1.0</text>
<rect x="618.1" y="529.0" width="3.1" height="2" fill="#000"/>
<text class="sb" x="622.2" y="532.7" textLength="19.3" lengthAdjust="spacingAndGlyphs">2.0</text>
<rect x="618.1" y="563.0" width="3.1" height="2" fill="#000"/>
<text class="sb" x="622.2" y="566.7" textLength="19.3" lengthAdjust="spacingAndGlyphs">3.0</text>
<rect x="618.1" y="582.0" width="3.1" height="2" fill="#000"/>
<text class="sb" x="622.2" y="585.7" textLength="19.3" lengthAdjust="spacingAndGlyphs">3.6</text>
<g transform="translate(657.6,492.4) rotate(-90)" style="stroke:#000;stroke-width:0.3"><text class="sb" x="0" y="0" textLength="40.4" lengthAdjust="spacingAndGlyphs" style="font-size:10px">Doppler,</text><text class="sb" x="42.5" y="0" textLength="11.4" lengthAdjust="spacingAndGlyphs" style="font-size:10px">Hz</text></g>
<g shape-rendering="crispEdges" stroke="#0000f0" stroke-width="1"><line x1="669" y1="402.5" x2="677" y2="402.5"/><line x1="672.5" y1="399" x2="672.5" y2="406"/></g>
<text class="sb" x="682.4" y="406.4" textLength="45" lengthAdjust="spacingAndGlyphs" style="fill:#0000f0;stroke:#0000f0;stroke-width:0.25;font-size:10px">Positive</text>
<circle cx="673" cy="522.8" r="2.6" fill="none" stroke="#e80000" stroke-width="1.1"/>
<text class="sb" x="682.4" y="526.4" textLength="51" lengthAdjust="spacingAndGlyphs" style="fill:#e80000;stroke:#e80000;stroke-width:0.25;font-size:10px">Negative</text>
<text class="mi" x="12" y="571.5" textLength="7" lengthAdjust="spacingAndGlyphs">V</text>
<text class="m" x="19.2" y="576.1" textLength="6.4" lengthAdjust="spacingAndGlyphs" style="font-size:10.6px">h</text>
<text class="m" x="26" y="571.5" textLength="21" lengthAdjust="spacingAndGlyphs"> = </text>
<text class="mi" x="47" y="571.5" textLength="14" lengthAdjust="spacingAndGlyphs">33</text>
<text class="m" x="61" y="571.5" textLength="21" lengthAdjust="spacingAndGlyphs"> ± </text>
<text class="mi" x="82" y="571.5" textLength="14" lengthAdjust="spacingAndGlyphs">41</text>
<text class="m" x="96" y="571.5" textLength="28" lengthAdjust="spacingAndGlyphs"> m/s</text>
<text class="mi" x="480" y="571.5" textLength="7" lengthAdjust="spacingAndGlyphs">V</text>
<text class="m" x="487.2" y="576.1" textLength="6.4" lengthAdjust="spacingAndGlyphs" style="font-size:10.6px">z</text>
<text class="m" x="494" y="571.5" textLength="21" lengthAdjust="spacingAndGlyphs"> = </text>
<text class="mi" x="515" y="571.5" textLength="7" lengthAdjust="spacingAndGlyphs">8</text>
<text class="m" x="522" y="571.5" textLength="21" lengthAdjust="spacingAndGlyphs"> ± </text>
<text class="mi" x="543" y="571.5" textLength="7" lengthAdjust="spacingAndGlyphs">2</text>
<text class="m" x="550" y="571.5" textLength="28" lengthAdjust="spacingAndGlyphs"> m/s</text>
<text class="mi" x="12" y="592.5" textLength="154" lengthAdjust="spacingAndGlyphs">Geographic coordinates</text>
<text class="mi" x="419.5" y="592.5" textLength="105" lengthAdjust="spacingAndGlyphs">Zenith: max 40°</text>
<text class="mi" x="535" y="592.5" textLength="49" lengthAdjust="spacingAndGlyphs">step 5°</text>
<text class="s" x="654.4" y="592.6" textLength="138" lengthAdjust="spacingAndGlyphs">ShowSkymap v 1.0   SD v 5.1</text>
<rect x="6.5" y="6.5" width="788" height="588" fill="none" stroke="#000" stroke-width="1" shape-rendering="crispEdges"/>
</svg></body></html>
